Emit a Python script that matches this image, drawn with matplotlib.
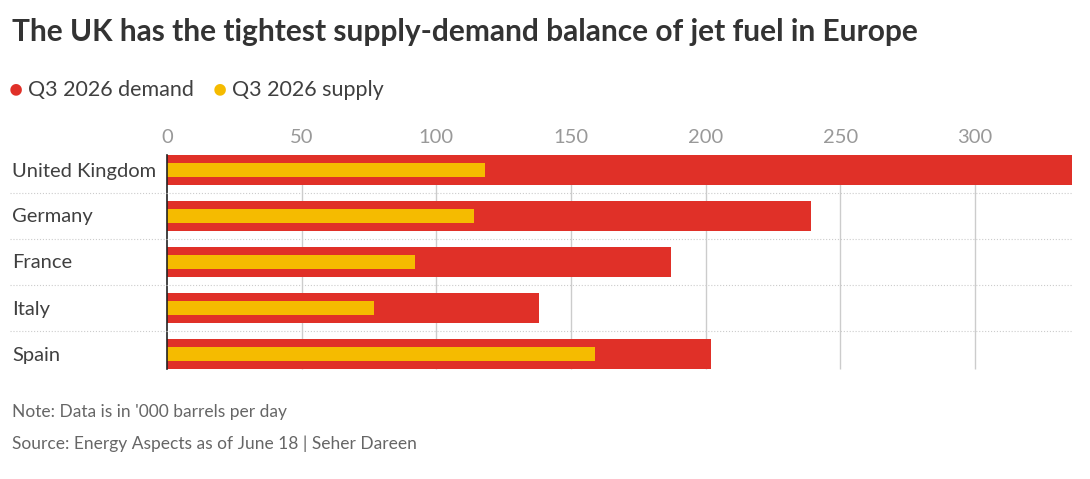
import matplotlib.pyplot as plt
import numpy as np

countries = ['United Kingdom', 'Germany', 'France', 'Italy', 'Spain']
demand = [336, 239, 187, 138, 202]
supply = [118, 114, 92, 77, 159]
ticks = [0, 50, 100, 150, 200, 250, 300]

plt.rcParams['font.family'] = ['Lato', 'DejaVu Sans']
red = '#e03028'
gold = '#f5bb00'

fig = plt.figure(figsize=(10.9, 4.79), dpi=100)
# rows of 46 px from y=147 to y=377
ax = fig.add_axes([167 / 1090, 1 - 377 / 479, (1072 - 167) / 1090, 230 / 479])

y = np.arange(len(countries))
ax.barh(y, demand, height=0.64, color=red, zorder=2)
ax.barh(y, supply, height=0.3, color=gold, zorder=3)
ax.set_ylim(len(countries) - 0.5, -0.5)
ax.set_xlim(0, 336)
ax.set_xticks(ticks)
ax.xaxis.tick_top()
ax.tick_params(axis='x', length=0, labelsize=14.5, labelcolor='#999999', pad=1)
ax.set_yticks([])
lo, hi = -0.5 + 8 / 46, 4.5 - 8 / 46
ax.vlines(ticks[1:], lo, hi, color='#cccccc', lw=1, zorder=1)
for s in ['top', 'right', 'bottom']:
    ax.spines[s].set_visible(False)
ax.spines['left'].set_bounds(lo, hi)
ax.spines['left'].set_color('#222222')
ax.spines['left'].set_linewidth(1.2)
ax.spines['left'].set_zorder(4)

for i, c in enumerate(countries):
    fig.text(12 / 1090, 1 - (171 + 46 * i) / 479, c, fontsize=14.5, color='#404040', va='center')
    if i > 0:
        yy = 1 - (147 + 46 * i) / 479
        fig.add_artist(plt.Line2D([10 / 1090, 1072 / 1090], [yy, yy], color='#cccccc', lw=0.8, ls=':'))

fig.text(12 / 1090, 1 - 32 / 479, 'The UK has the tightest supply-demand balance of jet fuel in Europe',
         fontsize=21.5, fontweight='bold', color='#333333', va='center')
fig.text(9 / 1090, 1 - 90 / 479, '\u25cf', color=red, fontsize=17, va='center')
fig.text(28 / 1090, 1 - 90 / 479, 'Q3 2026 demand', color='#404040', fontsize=15.5, va='center')
fig.text(213 / 1090, 1 - 90 / 479, '\u25cf', color=gold, fontsize=17, va='center')
fig.text(232 / 1090, 1 - 90 / 479, 'Q3 2026 supply', color='#404040', fontsize=15.5, va='center')
fig.text(12 / 1090, 1 - 412 / 479, "Note: Data is in '000 barrels per day", color='#666666', fontsize=12.5, va='center')
fig.text(12 / 1090, 1 - 444 / 479, 'Source: Energy Aspects as of June 18 | Seher Dareen', color='#666666', fontsize=12.5, va='center')

fig.savefig('out.png', dpi=100)
